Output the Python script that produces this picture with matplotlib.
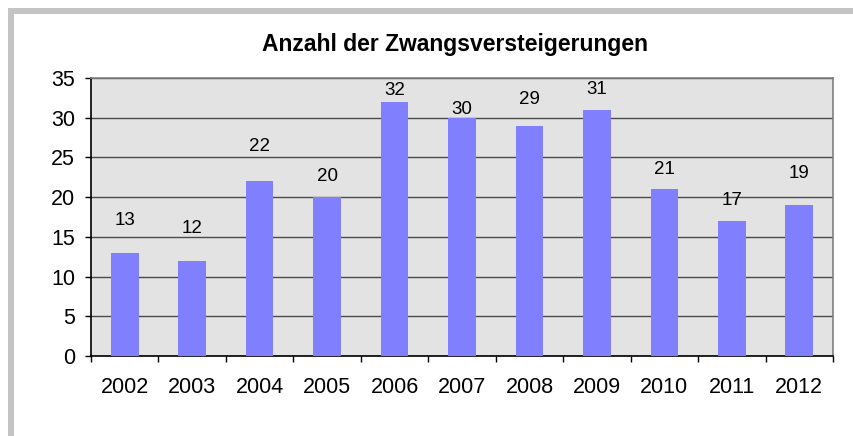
import matplotlib
matplotlib.use("Agg")
import matplotlib.pyplot as plt
from matplotlib.patches import Rectangle
from matplotlib.ticker import FixedLocator

years = ["2002", "2003", "2004", "2005", "2006", "2007", "2008", "2009", "2010", "2011", "2012"]
counts = [13, 12, 22, 20, 32, 30, 29, 31, 21, 17, 19]
y_ticks = [0, 5, 10, 15, 20, 25, 30, 35]

# label gap above each bar (pixels), as placed in the original
label_gap_px = [32, 32, 35, 21, 11, 8, 26, 20, 20, 20, 32]

plt.rcParams['font.family'] = ['Liberation Sans', 'DejaVu Sans']

W, H = 854, 436
fig = plt.figure(figsize=(W / 100, H / 100), dpi=100)
fig.patch.set_facecolor('white')

# light gray frame on top and left edge
frame_color = '#C4C4C4'
fig.add_artist(Rectangle((8 / W, 1 - 14 / H), 1, 6 / H, transform=fig.transFigure,
                         facecolor=frame_color, edgecolor='none'))
fig.add_artist(Rectangle((8 / W, 0), 6 / W, 1 - 8 / H, transform=fig.transFigure,
                         facecolor=frame_color, edgecolor='none'))

ax = fig.add_axes([91 / W, 1 - 356 / H, (833 - 91) / W, (356 - 78) / H])
ax.set_facecolor('#E3E3E3')

x = list(range(len(years)))
ax.bar(x, counts, width=0.41, color='#8080FF', zorder=3)

for xi, v, gap in zip(x, counts, label_gap_px):
    ax.annotate(str(v), (xi, v), xytext=(0, gap * 0.72), textcoords='offset points',
                ha='center', va='center', fontsize=13.5, zorder=4)

ax.set_xlim(-0.5, len(years) - 0.5)
ax.set_ylim(0, 35)
ax.set_yticks(y_ticks)
ax.yaxis.grid(True, color='#4A4A4A', linewidth=1.0, zorder=1)
ax.set_axisbelow(True)

ax.set_xticks(x)
ax.set_xticklabels(years)
ax.xaxis.set_minor_locator(FixedLocator([i - 0.5 for i in range(len(years) + 1)]))
ax.tick_params(axis='x', which='major', length=0, pad=15, labelsize=15.5)
ax.tick_params(axis='x', which='minor', length=4.5, width=1.0, direction='out', color='black')
ax.tick_params(axis='y', length=4.5, width=1.0, direction='out', pad=7, labelsize=15.5)

ax.spines['left'].set_color('black')
ax.spines['bottom'].set_color('black')
ax.spines['top'].set_color('#808080')
ax.spines['right'].set_color('#808080')
for s in ax.spines.values():
    s.set_linewidth(1.2)

fig.text(455 / W, 1 - 44 / H, 'Anzahl der Zwangsversteigerungen', ha='center', va='center',
         fontsize=16.5, fontweight='bold')

fig.savefig('out.png', dpi=100)
